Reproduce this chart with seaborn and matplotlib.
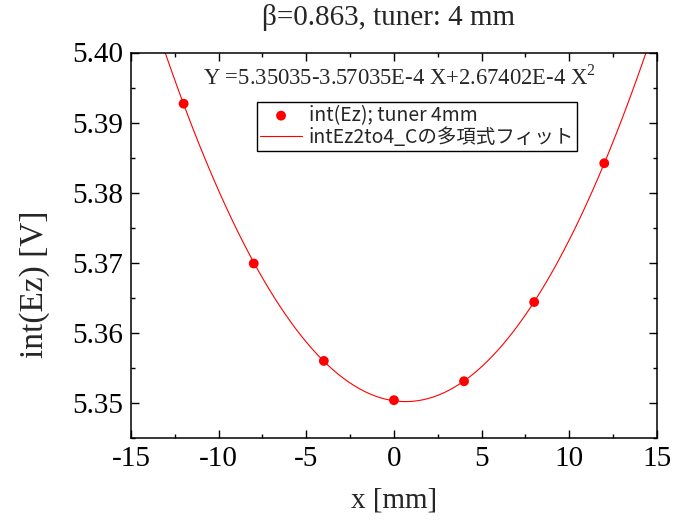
import numpy as np
import pandas as pd
import matplotlib
matplotlib.use("Agg")
import matplotlib.pyplot as plt
import seaborn as sns
from matplotlib.ticker import MultipleLocator, FormatStrFormatter

x_mm = [-12, -8, -4, 0, 4, 8, 12]
int_ez = [5.3927, 5.3699, 5.3560, 5.3504, 5.3531, 5.3644, 5.3842]
point_label = "int(Ez); tuner 4mm"
fit_label = "intEz2to4_Cの多項式フィット"
title = "β=0.863, tuner: 4 mm"
equation = "Y =5.35035-3.57035E-4 X+2.67402E-4 X$^2$"
xlabel = "x [mm]"
ylabel = "int(Ez) [V]"

df = pd.DataFrame({"x": x_mm, "y": int_ez})

sns.set_style("ticks")
plt.rcParams["font.family"] = ["Liberation Serif", "DejaVu Serif"]
plt.rcParams["mathtext.fontset"] = "custom"
plt.rcParams["mathtext.rm"] = "Liberation Serif"
plt.rcParams["axes.unicode_minus"] = False

fig = plt.figure(figsize=(6.73, 5.25), dpi=100)
ax = fig.add_axes([0.1947, 0.1657, 0.7813, 0.7343])
ax.set_xlim(-15, 15)
ax.set_ylim(5.345, 5.40)

sns.regplot(data=df, x="x", y="y", order=2, ci=None, scatter=False,
            truncate=False, ax=ax, color="red", line_kws={"lw": 0.8})
fit_line = ax.lines[-1]
fit_line.set_label(fit_label)
sns.scatterplot(data=df, x="x", y="y", ax=ax, color="red", s=50,
                edgecolor="none", label=point_label, zorder=3)
ax.set_xlim(-15, 15)
ax.set_ylim(5.345, 5.40)

ax.xaxis.set_major_locator(MultipleLocator(5))
ax.xaxis.set_minor_locator(MultipleLocator(2.5))
ax.yaxis.set_major_locator(MultipleLocator(0.01))
ax.yaxis.set_minor_locator(MultipleLocator(0.005))
ax.yaxis.set_major_formatter(FormatStrFormatter("%.2f"))
ax.tick_params(which="both", direction="in", top=True, right=True,
               width=1.0, colors="black", labelsize=21)
ax.tick_params(which="major", length=6)
ax.tick_params(which="minor", length=3)
ax.tick_params(axis="x", pad=6)
ax.tick_params(axis="y", pad=6)
for s in ax.spines.values():
    s.set_linewidth(1.1)
    s.set_color("black")

ax.set_xlabel(xlabel, fontsize=21, va="center")
ax.xaxis.set_label_coords(0.5, -0.161)
ax.set_ylabel(ylabel, fontsize=24, va="center")
ax.yaxis.set_label_coords(-0.183, 0.40)
ax.set_title(title, fontsize=21, x=0.489, y=1.0895, va="center", pad=0)

ax.text(0.511, 0.935, equation, transform=ax.transAxes, ha="center",
        va="center", fontsize=16.3)

handles, labels = ax.get_legend_handles_labels()
hmap = dict(zip(labels, handles))
leg = ax.legend([hmap[point_label], fit_line], [point_label, fit_label],
                loc="upper left", bbox_to_anchor=(0.24, 0.872),
                prop={"family": ["Noto Sans CJK JP", "DejaVu Sans"], "size": 14},
                frameon=True, fancybox=False, edgecolor="black",
                framealpha=1, borderpad=0.15, labelspacing=0.05,
                handlelength=2.15, handletextpad=0.35, borderaxespad=0)
leg.get_frame().set_linewidth(1.0)

fig.savefig("out.png", dpi=100)
